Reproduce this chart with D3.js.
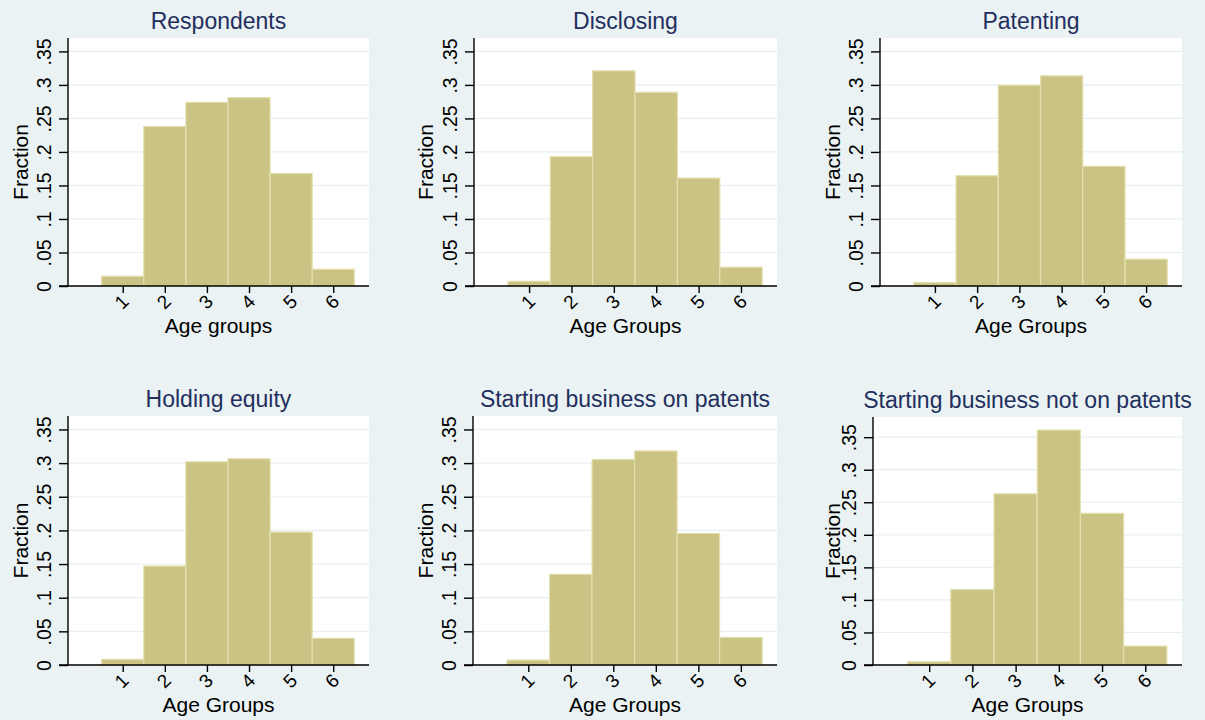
<!DOCTYPE html>
<html>
<head>
<meta charset="utf-8">
<script src="https://cdn.jsdelivr.net/npm/d3@7"></script>
<style>
  html, body { margin: 0; padding: 0; background: #eaf2f3; }
  svg { display: block; font-family: "Liberation Sans", Arial, sans-serif; }
</style>
</head>
<body>
<svg id="chart" width="1205" height="720"></svg>
<script>
// Age groups on the x axis
const ageGroups = [1, 2, 3, 4, 5, 6];

// Y tick values and their labels
const yTicks = [0, 0.05, 0.1, 0.15, 0.2, 0.25, 0.3, 0.35];
const yTickLabels = ["0", ".05", ".1", ".15", ".2", ".25", ".3", ".35"];

// Panel titles and x-axis titles
const panelTitles = ["Respondents", "Disclosing", "Patenting",
  "Holding equity", "Starting business on patents", "Starting business not on patents"];
const xTitles = ["Age groups", "Age Groups", "Age Groups", "Age Groups", "Age Groups", "Age Groups"];

// Fraction of each group falling in each age group
const respondents   = [0.0145, 0.238, 0.274, 0.281, 0.168, 0.025];
const disclosing    = [0.007, 0.193, 0.321, 0.289, 0.161, 0.028];
const patenting     = [0.005, 0.1645, 0.2995, 0.3135, 0.1785, 0.040];
const holdingEquity = [0.0084, 0.147, 0.302, 0.3064, 0.1975, 0.0396];
const startOnPat    = [0.0074, 0.1347, 0.3054, 0.318, 0.1955, 0.041];
const startNotOnPat = [0.005, 0.116, 0.263, 0.361, 0.233, 0.029];

const seriesList = [respondents, disclosing, patenting, holdingEquity, startOnPat, startNotOnPat];

// Plot-region boxes for the 2x3 grid
const layout = [
  { x0: 68,  x1: 369,  top: 38,  base: 286, ytitleGap: 48 },
  { x0: 474, x1: 777,  top: 38,  base: 286, ytitleGap: 49 },
  { x0: 880, x1: 1182, top: 38,  base: 286, ytitleGap: 48 },
  { x0: 68,  x1: 369,  top: 416, base: 665, ytitleGap: 48 },
  { x0: 473, x1: 777,  top: 416, base: 665, ytitleGap: 48 },
  { x0: 873, x1: 1182, top: 417, base: 665, ytitleGap: 41 }
];

const svg = d3.select("#chart");
const barFill = "#cbc383";
const barEdge = "#e4dfae";
const gridColor = "#e8eff1";
const titleColor = "#222f5e";

seriesList.forEach((values, i) => {
  const L = layout[i];
  const g = svg.append("g");

  const x = d3.scaleLinear().domain([-0.3, 6.85]).range([L.x0, L.x1]);
  const yMax = Math.max(0.35, d3.max(values)) + 0.02;
  const y = d3.scaleLinear().domain([0, yMax]).range([L.base, L.top]);

  // white plot region
  g.append("rect")
    .attr("x", L.x0).attr("y", L.top)
    .attr("width", L.x1 - L.x0).attr("height", L.base - L.top)
    .attr("fill", "#ffffff");

  // horizontal grid lines
  g.append("g").selectAll("line")
    .data(yTicks.filter(t => t > 0))
    .join("line")
    .attr("x1", L.x0).attr("x2", L.x1)
    .attr("y1", d => y(d)).attr("y2", d => y(d))
    .attr("stroke", gridColor).attr("stroke-width", 1.2);

  // histogram bars, each one unit wide and centred on its age group
  g.append("g").selectAll("rect")
    .data(values)
    .join("rect")
    .attr("x", (d, j) => x(ageGroups[j] - 0.5))
    .attr("width", (d, j) => x(ageGroups[j] + 0.5) - x(ageGroups[j] - 0.5))
    .attr("y", d => y(d))
    .attr("height", d => y(0) - y(d))
    .attr("fill", barFill)
    .attr("stroke", barEdge)
    .attr("stroke-width", 1.2);

  // y axis
  const yAxis = d3.axisLeft(y)
    .tickValues(yTicks)
    .tickFormat((d, k) => yTickLabels[k])
    .tickSize(9)
    .tickSizeOuter(0);
  const ya = g.append("g").attr("transform", `translate(${L.x0},0)`).call(yAxis);
  ya.select(".domain").attr("stroke", "#000").attr("stroke-width", 1.4)
    .attr("d", `M0,${L.top}V${L.base}`);
  ya.selectAll(".tick line").attr("stroke", "#000").attr("stroke-width", 1.4);
  ya.selectAll(".tick text")
    .attr("x", null).attr("dy", null)
    .attr("font-size", 19.5)
    .attr("fill", "#000")
    .attr("text-anchor", "middle")
    .attr("dominant-baseline", "central")
    .attr("transform", "translate(-24,0) rotate(-90)");

  // x axis
  const xAxis = d3.axisBottom(x)
    .tickValues(ageGroups)
    .tickFormat(d3.format("d"))
    .tickSize(7)
    .tickSizeOuter(0);
  const xa = g.append("g").attr("transform", `translate(0,${L.base})`).call(xAxis);
  xa.select(".domain").attr("stroke", "#000").attr("stroke-width", 1.4)
    .attr("d", `M${L.x0 - 9},0H${L.x1}`);
  xa.selectAll(".tick line").attr("stroke", "#000").attr("stroke-width", 1.4);
  xa.selectAll(".tick text")
    .attr("y", null).attr("dy", null)
    .attr("font-size", 19)
    .attr("fill", "#000")
    .attr("text-anchor", "middle")
    .attr("dominant-baseline", "central")
    .attr("transform", "translate(-1.5,16) rotate(-45)");

  xa.attr("font-family", null);
  ya.attr("font-family", null);

  // axis titles
  g.append("text")
    .attr("x", (L.x0 + L.x1) / 2)
    .attr("y", L.base + 47)
    .attr("text-anchor", "middle")
    .attr("font-size", 21)
    .attr("fill", "#000")
    .text(xTitles[i]);

  g.append("text")
    .attr("transform", `translate(${L.x0 - L.ytitleGap},${(L.top + L.base) / 2}) rotate(-90)`)
    .attr("text-anchor", "middle")
    .attr("dominant-baseline", "central")
    .attr("font-size", 21)
    .attr("fill", "#000")
    .text("Fraction");

  // panel title
  g.append("text")
    .attr("x", (L.x0 + L.x1) / 2)
    .attr("y", L.top - 9)
    .attr("text-anchor", "middle")
    .attr("font-size", 23)
    .attr("fill", titleColor)
    .text(panelTitles[i]);
});
</script>
</body>
</html>
